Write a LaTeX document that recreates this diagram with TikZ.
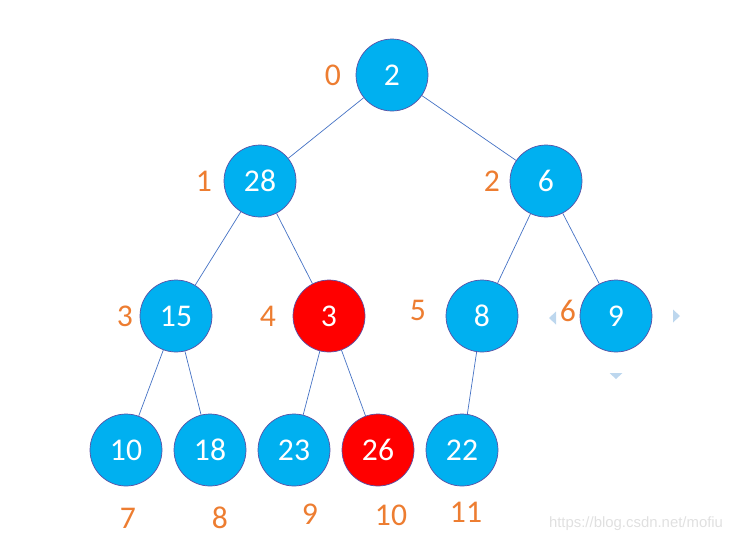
\documentclass[tikz,border=0pt]{standalone}
\usepackage{fontspec}
\setmainfont{Carlito}
\newfontfamily\markfont{Liberation Sans}
\usepackage{xcolor}
\usepackage{tikz}
\usetikzlibrary{positioning}

\definecolor{nodeblue}{RGB}{0,176,240}
\definecolor{rimpurple}{RGB}{90,80,165}
\definecolor{edgeblue}{RGB}{68,114,196}
\definecolor{idxorange}{RGB}{237,125,49}
\definecolor{handleblue}{RGB}{189,215,238}

\begin{document}
\begin{tikzpicture}[
    x=0.025cm, y=-0.025cm,
    font=\fontsize{22.5}{26}\selectfont,
    heap/.style={
        circle,
        draw=rimpurple,
        line width=0.5pt,
        fill=nodeblue,
        text=white,
        minimum size=72*0.025cm,
        inner sep=0pt
    },
    hot/.style={heap, fill=red},
    idx/.style={text=idxorange, inner sep=0pt},
    edge/.style={draw=edgeblue, line width=0.5pt},
    handle/.style={fill=handleblue}
]

\useasboundingbox (0,0) rectangle (744,549);

% Heap nodes
\node[heap] (n0)  at (392, 75)  {2};
\node[heap] (n1)  at (260,181)  {28};
\node[heap] (n2)  at (546,181)  {6};
\node[heap] (n3)  at (176,316)  {15};
\node[hot]  (n4)  at (329,316)  {3};
\node[heap] (n5)  at (482,316)  {8};
\node[heap] (n6)  at (616,316)  {9};
\node[heap] (n7)  at (126,450)  {10};
\node[heap] (n8)  at (210,450)  {18};
\node[heap] (n9)  at (294,450)  {23};
\node[hot]  (n10) at (378,450)  {26};
\node[heap] (n11) at (462,450)  {22};

% Edges
\draw[edge] (n0) -- (n1);
\draw[edge] (n0) -- (n2);
\draw[edge] (n1) -- (n3);
\draw[edge] (n1) -- (n4);
\draw[edge] (n2) -- (n5);
\draw[edge] (n2) -- (n6);
\draw[edge] (n3) -- (n7);
\draw[edge] (n3) -- (n8);
\draw[edge] (n4) -- (n9);
\draw[edge] (n4) -- (n10);
\draw[edge] (n5) -- (n11);

% Indices
\node[idx] (i0)  at (333, 75)  {0};
\node[idx] (i1)  at (204,181)  {1};
\node[idx] (i2)  at (492,181)  {2};
\node[idx] (i3)  at (125,316)  {3};
\node[idx] (i4)  at (268,316)  {4};
\node[idx] (i5)  at (418,310)  {5};
\node[idx] (i6)  at (568,311)  {6};
\node[idx] (i7)  at (128,518)  {7};
\node[idx] (i8)  at (220,518)  {8};
\node[idx] (i9)  at (310,514)  {9};
\node[idx] (i10) at (391,515)  {10};
\node[idx] (i11) at (466,512)  {11};

% Selection handles
\fill[handle] (549,318) -- ++(7,-6.5) -- ++(0,13) -- cycle;
\fill[handle] (680,316) -- ++(-7,-6.5) -- ++(0,13) -- cycle;
\fill[handle] (616,379) -- ++(-6.5,-6) -- ++(13,0) -- cycle;

% Watermark
\node[text=black!12, font=\markfont\fontsize{10.6}{12}\selectfont, anchor=east] (wm) at (728,524) {https://blog.csdn.net/mofiu};

\end{tikzpicture}
\end{document}
